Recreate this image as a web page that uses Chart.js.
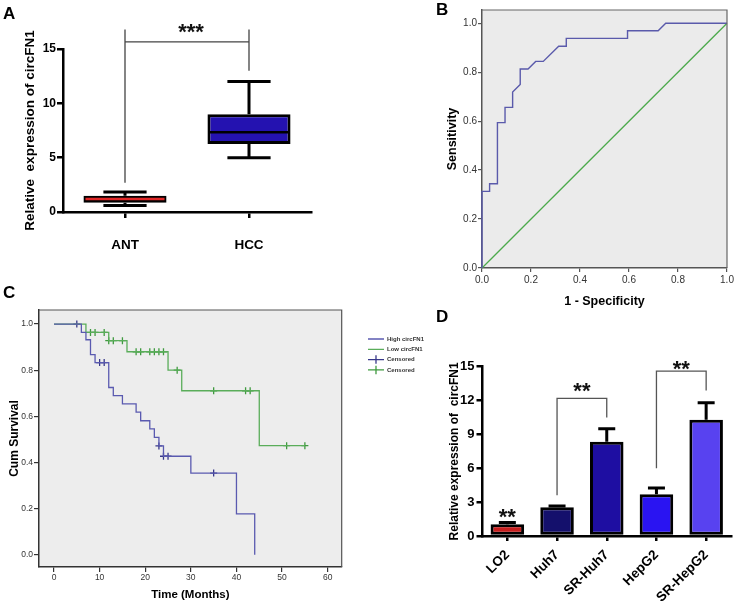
<!DOCTYPE html>
<html><head><meta charset="utf-8">
<script src="https://cdn.jsdelivr.net/npm/chart.js@4.4.1/dist/chart.umd.min.js"></script>
<style>
html,body{margin:0;padding:0;background:#fff;}
#wrap{position:relative;width:737px;height:605px;overflow:hidden;background:#fff;}
canvas{position:absolute;}
.lbl{position:absolute;font:bold 17px "Liberation Sans",Arial,sans-serif;line-height:17px;color:#000;}
</style></head><body>
<div id="wrap">
<canvas id="cA" width="370" height="290" style="left:0px;top:0px;width:370px;height:290px"></canvas>
<canvas id="cB" width="367" height="310" style="left:370px;top:0px;width:367px;height:310px"></canvas>
<canvas id="cC" width="434" height="305" style="left:0px;top:300px;width:434px;height:305px"></canvas>
<canvas id="cD" width="367" height="305" style="left:370px;top:300px;width:367px;height:305px"></canvas>
<div class="lbl" style="left:3px;top:5px">A</div>
<div class="lbl" style="left:436px;top:1px">B</div>
<div class="lbl" style="left:3px;top:284px">C</div>
<div class="lbl" style="left:436px;top:308px">D</div>
</div>
<script>
// ---------- Panel A: box plot ----------
const boxCategories = ['ANT', 'HCC'];
const boxMin    = [0.6, 5.0];
const boxQ1     = [0.85, 6.25];
const boxMedian = [1.2, 7.35];
const boxQ3     = [1.5, 9.0];
const boxMax    = [1.85, 12.0];
const aYTicks   = [0, 5, 10, 15];

// ---------- Panel B: ROC ----------
const rocFpr = [0, 0, 0.031, 0.031, 0.063, 0.063, 0.094, 0.094, 0.125, 0.125, 0.156, 0.156, 0.188, 0.219, 0.25, 0.313, 0.344, 0.344, 0.594, 0.594, 0.719, 0.75, 1.0];
const rocTpr = [0, 0.313, 0.313, 0.344, 0.344, 0.594, 0.594, 0.656, 0.656, 0.719, 0.75, 0.813, 0.813, 0.844, 0.844, 0.906, 0.906, 0.938, 0.938, 0.969, 0.969, 1.0, 1.0];
const refX = [0, 1];
const refY = [0, 1];
const bTicks = [0, 0.2, 0.4, 0.6, 0.8, 1.0];

// ---------- Panel C: Kaplan-Meier ----------
const highTime = [0, 6, 7, 8, 9, 12, 13, 15, 18, 19, 21, 22, 23, 24, 30, 40, 44];
const highSurv = [1, 0.964, 0.932, 0.868, 0.833, 0.725, 0.69, 0.654, 0.618, 0.581, 0.546, 0.509, 0.472, 0.427, 0.354, 0.177, 0];
const lowTime  = [0, 7, 12, 16, 25, 28, 45, 55];
const lowSurv  = [1, 0.964, 0.928, 0.88, 0.80, 0.711, 0.473, 0.473];
const highCensTime = [5, 10, 11, 23, 24, 25, 35];
const highCensSurv = [1.0, 0.833, 0.833, 0.472, 0.427, 0.427, 0.354];
const lowCensTime  = [8, 9, 11, 12, 13, 15, 18, 19, 21, 22, 23, 24, 27, 35, 42, 43, 51, 55];
const lowCensSurv  = [0.964, 0.964, 0.964, 0.928, 0.928, 0.928, 0.88, 0.88, 0.88, 0.88, 0.88, 0.88, 0.80, 0.711, 0.711, 0.711, 0.473, 0.473];
const cXTicks = [0, 10, 20, 30, 40, 50, 60];
const cYTicks = [0, 0.2, 0.4, 0.6, 0.8, 1.0];

// ---------- Panel D: bar chart ----------
const dCategories = ['LO2', 'Huh7', 'SR-Huh7', 'HepG2', 'SR-HepG2'];
const dMeans  = [1.05, 2.55, 8.35, 3.7, 10.3];
const dErrors = [0.15, 0.1, 1.15, 0.55, 1.5];
const dTicks  = [0, 3, 6, 9, 12, 15];

// annotations (data units)
const aBracket = {from: 0, to: 1, fromLow: 2.7, toLow: 13.0, top: 16.8, bar: 15.65, text: '***', textY: 17.1};
const dBrackets = [
  {from: 1, to: 2, fromLow: 3.6, toLow: 10.5, bar: 12.2, text: '**', textY: 13.3},
  {from: 3, to: 4, fromLow: 6.0, toLow: 12.9, bar: 14.6, text: '**', textY: 15.3}
];
const dSingleStars = [{at: 0, text: '**', textY: 2.2}];

const FF = '"Liberation Sans", Arial, Helvetica, sans-serif';
Chart.defaults.font.family = FF;
Chart.defaults.color = '#000';
Chart.defaults.animation = false;

function fixedTicks(arr){ return function(s){ s.ticks = arr.map(v => ({value: v})); }; }
function drawStars(ctx, text, x, yCenter, size){
  ctx.save();
  ctx.font = 'bold ' + size + 'px ' + FF;
  ctx.fillStyle = '#111';
  ctx.textAlign = 'center';
  ctx.textBaseline = 'alphabetic';
  ctx.fillText(text, x, yCenter + size * 0.57);
  ctx.restore();
}

// ---------- Chart A ----------
const boxPlugin = {
  id: 'boxWhiskers',
  beforeDatasetsDraw(chart){
    const ctx = chart.ctx, y = chart.scales.y;
    const meta = chart.getDatasetMeta(0);
    ctx.save();
    ctx.strokeStyle = '#000'; ctx.lineWidth = 3; ctx.lineCap = 'butt';
    meta.data.forEach((bar, i) => {
      const cx = bar.x, ch = bar.width * 0.26;
      ctx.beginPath();
      ctx.moveTo(cx, y.getPixelForValue(boxQ3[i])); ctx.lineTo(cx, y.getPixelForValue(boxMax[i]));
      ctx.moveTo(cx, y.getPixelForValue(boxQ1[i])); ctx.lineTo(cx, y.getPixelForValue(boxMin[i]));
      ctx.moveTo(cx - ch, y.getPixelForValue(boxMax[i])); ctx.lineTo(cx + ch, y.getPixelForValue(boxMax[i]));
      ctx.moveTo(cx - ch, y.getPixelForValue(boxMin[i])); ctx.lineTo(cx + ch, y.getPixelForValue(boxMin[i]));
      ctx.stroke();
    });
    ctx.restore();
  },
  afterDatasetsDraw(chart){
    const ctx = chart.ctx, x = chart.scales.x, y = chart.scales.y;
    const meta = chart.getDatasetMeta(0);
    const medCol = ['#e02828', '#000'];
    ctx.save();
    meta.data.forEach((bar, i) => {
      const hw = bar.width / 2 - 2;
      ctx.strokeStyle = medCol[i]; ctx.lineWidth = 2.5;
      ctx.beginPath();
      ctx.moveTo(bar.x - hw, y.getPixelForValue(boxMedian[i]));
      ctx.lineTo(bar.x + hw, y.getPixelForValue(boxMedian[i]));
      ctx.stroke();
    });
    const x1 = x.getPixelForValue(aBracket.from), x2 = x.getPixelForValue(aBracket.to);
    ctx.strokeStyle = '#444'; ctx.lineWidth = 1.3;
    ctx.beginPath();
    ctx.moveTo(x1, y.getPixelForValue(aBracket.fromLow)); ctx.lineTo(x1, y.getPixelForValue(aBracket.top));
    ctx.moveTo(x2, y.getPixelForValue(aBracket.toLow)); ctx.lineTo(x2, y.getPixelForValue(aBracket.top));
    ctx.moveTo(x1, y.getPixelForValue(aBracket.bar)); ctx.lineTo(x2, y.getPixelForValue(aBracket.bar));
    ctx.stroke();
    ctx.restore();
    drawStars(ctx, aBracket.text, (x1 + x2) / 2 + 4, y.getPixelForValue(aBracket.textY), 22);
  }
};

new Chart(document.getElementById('cA'), {
  type: 'bar',
  data: {labels: boxCategories, datasets: [{
    data: boxCategories.map((c, i) => [boxQ1[i], boxQ3[i]]),
    backgroundColor: ['#5a0808', '#2412b0'],
    borderColor: '#000', borderWidth: 3, borderSkipped: false,
    barPercentage: 0.67, categoryPercentage: 1
  }]},
  options: {
    responsive: false, devicePixelRatio: 1, animation: false,
    layout: {padding: {left: 0, right: 59, top: 49, bottom: 0}},
    plugins: {legend: {display: false}, tooltip: {enabled: false}},
    scales: {
      x: {offset: true,
        grid: {display: true, drawOnChartArea: false, drawTicks: true, tickLength: 6, offset: false, color: '#000', lineWidth: 2.5},
        border: {display: true, color: '#000', width: 2.5},
        ticks: {font: {size: 13.5, weight: 'bold'}, padding: 19, color: '#000'},
        afterFit(s){ s.height = 78; }},
      y: {min: 0, max: 15, afterBuildTicks: fixedTicks(aYTicks),
        grid: {drawOnChartArea: false, drawTicks: true, tickLength: 6, color: '#000', lineWidth: 2.5},
        border: {color: '#000', width: 2.5},
        ticks: {font: {size: 12, weight: 'bold'}, padding: 1, color: '#000'},
        title: {display: true, text: 'Relative  expression of circFN1', font: {size: 13.5, weight: 'bold'}, padding: {top: 22, bottom: 0}, color: '#000'},
        afterFit(s){ s.width = 63; }}
    }
  },
  plugins: [boxPlugin]
});

// ---------- Chart B ----------
const panelFrame = {
  id: 'panelFrame',
  beforeDraw(chart, args, opts){
    const {ctx, chartArea: a} = chart;
    ctx.save(); ctx.fillStyle = opts.bg; ctx.fillRect(a.left, a.top, a.right - a.left, a.bottom - a.top); ctx.restore();
  },
  afterDraw(chart, args, opts){
    const {ctx, chartArea: a} = chart;
    ctx.save(); ctx.strokeStyle = opts.border; ctx.lineWidth = 1.2;
    ctx.beginPath();
    ctx.moveTo(a.left, a.top); ctx.lineTo(a.right, a.top); ctx.lineTo(a.right, a.bottom);
    ctx.stroke(); ctx.restore();
  }
};

new Chart(document.getElementById('cB'), {
  type: 'line',
  data: {datasets: [
    {label: 'ROC', data: rocFpr.map((v, i) => ({x: v, y: rocTpr[i]})), borderColor: '#5a5aab', borderWidth: 1.4, pointRadius: 0, fill: false, tension: 0, clip: 4},
    {label: 'Reference', data: refX.map((v, i) => ({x: v, y: refY[i]})), borderColor: '#4caa4c', borderWidth: 1.3, pointRadius: 0, fill: false, tension: 0, clip: 4}
  ]},
  options: {
    responsive: false, devicePixelRatio: 1, animation: false,
    layout: {padding: {left: 0, right: 10, top: 10, bottom: 0}},
    plugins: {legend: {display: false}, tooltip: {enabled: false}, panelFrame: {bg: '#ebebeb', border: '#666'}},
    scales: {
      x: {type: 'linear', min: 0, max: 1, afterBuildTicks: fixedTicks(bTicks),
        grid: {drawOnChartArea: false, drawTicks: true, tickLength: 4, color: '#555', lineWidth: 1.2},
        border: {color: '#555', width: 1.5},
        ticks: {callback: v => v.toFixed(1), font: {size: 10}, color: '#333', padding: 2, maxRotation: 0, autoSkip: false},
        title: {display: true, text: '1 - Specificity', font: {size: 12.5, weight: 'bold'}, padding: {top: 0, bottom: 1}, color: '#000'},
        afterFit(s){ s.height = 42; }},
      y: {min: 0, max: 1.054, afterBuildTicks: fixedTicks(bTicks),
        grid: {drawOnChartArea: false, drawTicks: true, tickLength: 4, color: '#555', lineWidth: 1.2},
        border: {color: '#555', width: 1.5},
        ticks: {callback: v => v.toFixed(1), font: {size: 10}, color: '#333', padding: 1},
        title: {display: true, text: 'Sensitivity', font: {size: 12.5, weight: 'bold'}, padding: {top: 75.5, bottom: 0}, color: '#000'},
        afterFit(s){ s.width = 112; }}
    }
  },
  plugins: [panelFrame]
});

// ---------- Chart C ----------
new Chart(document.getElementById('cC'), {
  type: 'line',
  data: {datasets: [
    {label: 'High circFN1', data: highTime.map((t, i) => ({x: t, y: highSurv[i]})), stepped: 'before', borderColor: '#5a5ab0', borderWidth: 1.3, pointRadius: 0, pointStyle: 'line', fill: false, clip: 4},
    {label: 'Low circFN1', data: lowTime.map((t, i) => ({x: t, y: lowSurv[i]})), stepped: 'before', borderColor: '#5aad5a', borderWidth: 1.3, pointRadius: 0, pointStyle: 'line', fill: false, clip: 4},
    {label: 'Censored', data: highCensTime.map((t, i) => ({x: t, y: highCensSurv[i]})), showLine: false, borderColor: '#38388a', backgroundColor: '#38388a', pointStyle: 'cross', pointRadius: 3.5, pointBorderWidth: 1.3, clip: 6},
    {label: 'Censored', data: lowCensTime.map((t, i) => ({x: t, y: lowCensSurv[i]})), showLine: false, borderColor: '#3f9a3f', backgroundColor: '#3f9a3f', pointStyle: 'cross', pointRadius: 3.5, pointBorderWidth: 1.3, clip: 6}
  ]},
  options: {
    responsive: false, devicePixelRatio: 1, animation: false,
    layout: {padding: {left: 0, right: 0, top: 10, bottom: 0}},
    plugins: {
      tooltip: {enabled: false},
      panelFrame: {bg: '#ededed', border: '#555'},
      legend: {display: true, position: 'right', align: 'start',
        title: {display: true, text: '', font: {size: 1}, padding: {top: 20.5, bottom: 0}},
        labels: {usePointStyle: true, pointStyleWidth: 16, boxHeight: 6, font: {size: 6, weight: 'bold'}, color: '#333', padding: 4.3}}
    },
    scales: {
      x: {type: 'linear', min: -3.29, max: 63.07, afterBuildTicks: fixedTicks(cXTicks),
        grid: {drawOnChartArea: false, drawTicks: true, tickLength: 5, color: '#333', lineWidth: 1.2},
        border: {color: '#333', width: 1.5},
        ticks: {font: {size: 8.5}, color: '#333', padding: 1, maxRotation: 0, autoSkip: false},
        title: {display: true, text: 'Time (Months)', font: {size: 11.5, weight: 'bold'}, padding: {top: 0, bottom: 2.8}, color: '#000'},
        afterFit(s){ s.height = 38; }},
      y: {min: -0.053, max: 1.061, afterBuildTicks: fixedTicks(cYTicks),
        grid: {drawOnChartArea: false, drawTicks: true, tickLength: 5, color: '#333', lineWidth: 1.2},
        border: {color: '#333', width: 1.5},
        ticks: {callback: v => v.toFixed(1), font: {size: 8.5}, color: '#333', padding: 1},
        title: {display: true, text: 'Cum Survival', font: {size: 12, weight: 'bold'}, padding: {top: 7.8, bottom: 0}, color: '#000'},
        afterFit(s){ s.width = 39; }},
      yr: {position: 'right', display: true, grid: {display: false}, border: {display: false}, ticks: {display: false},
        afterFit(s){ s.width = 22; }}
    }
  },
  plugins: [panelFrame]
});

// ---------- Chart D ----------
const errPlugin = {
  id: 'errBars',
  afterDatasetsDraw(chart){
    const ctx = chart.ctx, x = chart.scales.x, y = chart.scales.y;
    const meta = chart.getDatasetMeta(0);
    ctx.save();
    ctx.strokeStyle = '#000'; ctx.lineWidth = 3;
    meta.data.forEach((bar, i) => {
      const top = y.getPixelForValue(dMeans[i] + dErrors[i]);
      ctx.beginPath();
      ctx.moveTo(bar.x, y.getPixelForValue(dMeans[i])); ctx.lineTo(bar.x, top);
      ctx.moveTo(bar.x - 8.5, top); ctx.lineTo(bar.x + 8.5, top);
      ctx.stroke();
    });
    ctx.strokeStyle = '#555'; ctx.lineWidth = 1.3;
    dBrackets.forEach(b => {
      const x1 = x.getPixelForValue(b.from), x2 = x.getPixelForValue(b.to);
      ctx.beginPath();
      ctx.moveTo(x1, y.getPixelForValue(b.fromLow)); ctx.lineTo(x1, y.getPixelForValue(b.bar));
      ctx.lineTo(x2, y.getPixelForValue(b.bar)); ctx.lineTo(x2, y.getPixelForValue(b.toLow));
      ctx.stroke();
      drawStars(ctx, b.text, (x1 + x2) / 2, y.getPixelForValue(b.textY), 22);
    });
    dSingleStars.forEach(s => drawStars(ctx, s.text, x.getPixelForValue(s.at), y.getPixelForValue(s.textY), 22));
    ctx.restore();
  }
};

new Chart(document.getElementById('cD'), {
  type: 'bar',
  data: {labels: dCategories, datasets: [{
    data: dMeans,
    backgroundColor: ['#c81e1e', '#14106c', '#1e0ea2', '#2a14f2', '#5842f0'],
    borderColor: '#000', borderWidth: 3, borderSkipped: false,
    barPercentage: 0.675, categoryPercentage: 1
  }]},
  options: {
    responsive: false, devicePixelRatio: 1, animation: false,
    layout: {padding: {left: 0, right: 6, top: 66.7, bottom: 0}},
    plugins: {legend: {display: false}, tooltip: {enabled: false}},
    scales: {
      x: {offset: true,
        grid: {display: true, drawOnChartArea: false, drawTicks: true, tickLength: 5, offset: false, color: '#000', lineWidth: 2.5},
        border: {color: '#000', width: 2.5},
        ticks: {font: {size: 13.5, weight: 'bold'}, color: '#000', padding: 6, minRotation: 45, maxRotation: 45, autoSkip: false},
        afterFit(s){ s.height = 69; }},
      y: {min: 0, max: 15, afterBuildTicks: fixedTicks(dTicks),
        grid: {drawOnChartArea: false, drawTicks: true, tickLength: 6, color: '#000', lineWidth: 2.5},
        border: {color: '#000', width: 2.5},
        ticks: {font: {size: 13, weight: 'bold'}, color: '#000', padding: 2},
        title: {display: true, text: 'Relative expression of  circFN1', font: {size: 12, weight: 'bold'}, padding: {top: 77.5, bottom: 0}, color: '#000'},
        afterFit(s){ s.width = 112.5; }}
    }
  },
  plugins: [errPlugin]
});
</script>
</body></html>
